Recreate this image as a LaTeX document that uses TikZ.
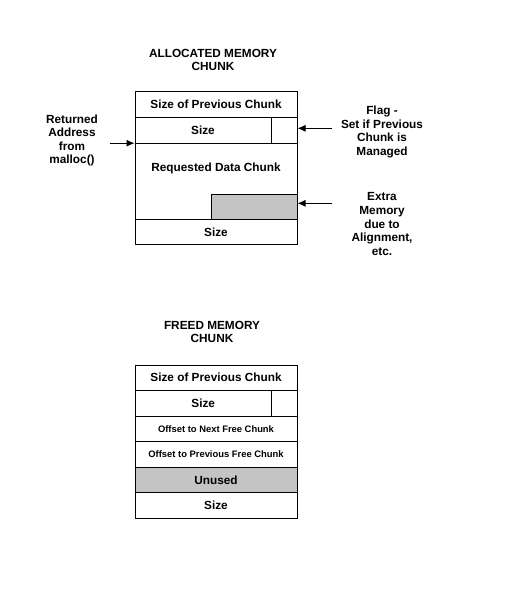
\documentclass[tikz,border=0pt]{standalone}
\usepackage{fontspec}
\setmainfont{Liberation Sans}
\usetikzlibrary{arrows.meta}
\definecolor{cellgray}{RGB}{196,196,196}
\begin{document}
\begin{tikzpicture}[x=1pt,y=-1pt,
  lbl/.style={font=\bfseries\fontsize{11.8}{13.6}\selectfont, align=center, inner sep=0pt},
  small/.style={font=\bfseries\fontsize{9.4}{10}\selectfont},
  cell/.style={draw, line width=1pt, inner sep=0pt, font=\bfseries\fontsize{11.8}{13.6}\selectfont},
  arr/.style={line width=1pt, -{Latex[length=8pt,width=7pt]}}
]
\useasboundingbox (0,0) rectangle (512,597);
% ---------- allocated chunk ----------
\node[lbl] (t1) at (213,60) {ALLOCATED MEMORY\\CHUNK};
\node[cell, minimum width=162pt, minimum height=25.5pt] (a1) at (216,104.5) {Size of Previous Chunk};
\node[cell, minimum width=136pt, minimum height=26pt] (a2) at (203,130.2) {Size};
\node[cell, minimum width=26pt, minimum height=26pt] (a2f) at (284,130.2) {};
\node[cell, minimum width=162pt, minimum height=76pt] (a3) at (216,181.2) {};
\node[lbl] (a3t) at (216,168.8) {Requested Data Chunk};
\node[cell, fill=cellgray, minimum width=85.3pt, minimum height=25pt] (a3x) at (254.35,206.7) {};
\node[cell, minimum width=162pt, minimum height=25.7pt] (a4) at (216,232.1) {Size};
% labels
\node[lbl] (ret) at (72,140.5) {Returned\\Address\\from\\malloc()};
\node[lbl] (flag) at (382,131.8) {Flag -\\Set if Previous\\Chunk is\\Managed};
\node[lbl] (extra) at (382,224) {Extra\\Memory\\due to\\Alignment,\\etc.};
\coordinate (rs) at (110,143.2);
\coordinate (fs) at (332,128.3);
\coordinate (es) at (332,203.3);
\draw[arr] (rs) -- (rs -| a3.west);
\draw[arr] (fs) -- (fs -| a2f.east);
\draw[arr] (es) -- (es -| a3x.east);
% ---------- freed chunk ----------
\node[lbl] (t2) at (212,332) {FREED MEMORY\\CHUNK};
\node[cell, minimum width=162pt, minimum height=25pt] (b1) at (216,377.5) {Size of Previous Chunk};
\node[cell, minimum width=136.5pt, minimum height=26pt] (b2) at (203.25,403) {Size};
\node[cell, minimum width=25.5pt, minimum height=26pt] (b2f) at (284.25,403) {};
\node[cell, small, minimum width=162pt, minimum height=25.7pt] (b3) at (216,428.85) {Offset to Next Free Chunk};
\node[cell, small, minimum width=162pt, minimum height=25.6pt] (b4) at (216,454.5) {Offset to Previous Free Chunk};
\node[cell, fill=cellgray, minimum width=162pt, minimum height=25.4pt] (b5) at (216,480) {Unused};
\node[cell, minimum width=162pt, minimum height=25.6pt] (b6) at (216,505.5) {Size};
\end{tikzpicture}
\end{document}
